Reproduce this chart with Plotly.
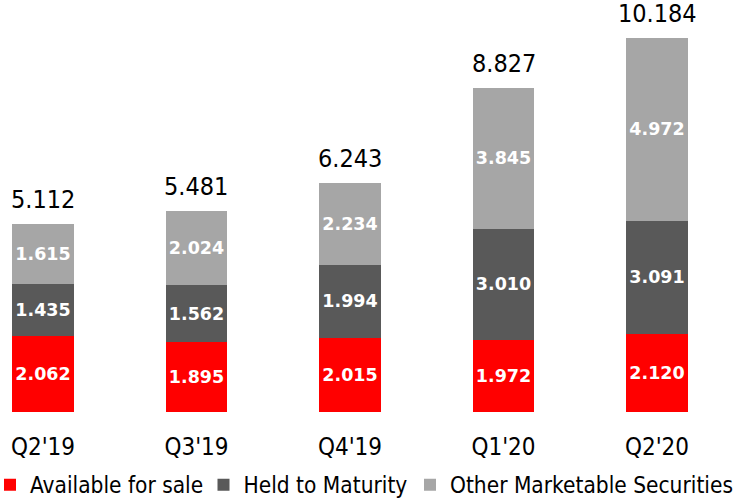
import plotly.graph_objects as go

categories = ["Q2'19", "Q3'19", "Q4'19", "Q1'20", "Q2'20"]
available_for_sale = [2.062, 1.895, 2.015, 1.972, 2.120]
held_to_maturity = [1.435, 1.562, 1.994, 3.010, 3.091]
other_marketable = [1.615, 2.024, 2.234, 3.845, 4.972]
totals = [5.112, 5.481, 6.243, 8.827, 10.184]

series = [
    ("Available for sale", available_for_sale, "#FF0000", "legend"),
    ("Held to Maturity", held_to_maturity, "#595959", "legend2"),
    ("Other Marketable Securities", other_marketable, "#A6A6A6", "legend3"),
]

cond = "DejaVu Sans Condensed, DejaVu Sans, sans-serif"

fig = go.Figure()
xs = list(range(len(categories)))
for name, vals, color, lg in series:
    fig.add_trace(go.Bar(
        x=xs, y=vals, name=name, width=0.4, legend=lg,
        marker=dict(color=color, line=dict(width=0)),
        text=[f"{v:.3f}" for v in vals],
        textposition="inside", insidetextanchor="middle",
        textfont=dict(family="DejaVu Sans", size=17.5, color="white", weight="bold"),
        textangle=0,
    ))

for i, t in enumerate(totals):
    fig.add_annotation(x=i, y=t, text=f"{t:.3f}", showarrow=False,
                       yanchor="bottom", yshift=8,
                       font=dict(family=cond, size=25, color="black"))

legend_style = dict(orientation="h", xref="container", yref="container",
                    y=0.028, yanchor="middle", xanchor="left",
                    font=dict(family=cond, size=22.5, color="black"),
                    itemwidth=30, indentation=-13, bgcolor="rgba(0,0,0,0)")

fig.update_layout(
    barmode="stack",
    width=739, height=499,
    margin=dict(l=0, r=0, t=0, b=87, autoexpand=False),
    plot_bgcolor="white", paper_bgcolor="white",
    uniformtext=dict(minsize=17, mode="show"),
    showlegend=True,
    legend=dict(x=3 / 739, **legend_style),
    legend2=dict(x=216.5 / 739, **legend_style),
    legend3=dict(x=423 / 739, **legend_style),
    xaxis=dict(range=[-0.280, 4.534], tickvals=xs, ticktext=categories,
               showgrid=False, zeroline=False, showline=False, ticks="",
               tickfont=dict(family=cond, size=24, color="black"),
               ticklabelstandoff=18),
    yaxis=dict(range=[0, 11.22], visible=False),
)

fig.write_html("out.html", config={"displayModeBar": False},
               post_script="document.body.style.margin='0';")
